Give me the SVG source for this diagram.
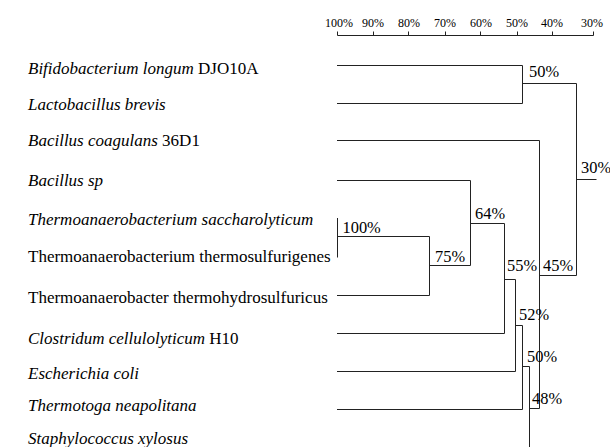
<svg xmlns="http://www.w3.org/2000/svg" width="610" height="447" viewBox="0 0 610 447">
<style>
.lab{font-size:17px}
.i{font-style:italic}
.pct{font-size:16.4px}
.ax{font-size:12px;text-anchor:middle}
.ln{stroke:#222;stroke-width:1;fill:none}
</style>
<rect width="610" height="447" fill="#fff"/>
<g id="axis" font-family="Liberation Serif, Times New Roman, DejaVu Serif, serif">
<path class="ln" d="M337.5,35.5H593.5M337.5,31.5V35.5M373.5,31.5V35.5M408.5,31.5V35.5M445.5,31.5V35.5M480.5,31.5V35.5M517.5,31.5V35.5M552.5,31.5V35.5M593.5,31.5V35.5"/>
<text class="ax" x="339" y="27">100%</text>
<text class="ax" x="373" y="27">90%</text>
<text class="ax" x="409" y="27">80%</text>
<text class="ax" x="445" y="27">70%</text>
<text class="ax" x="481" y="27">60%</text>
<text class="ax" x="517" y="27">50%</text>
<text class="ax" x="552" y="27">40%</text>
<text class="ax" x="592" y="27">30%</text>
</g>
<g id="taxa" class="lab" font-family="Liberation Serif, Times New Roman, DejaVu Serif, serif">
<text id="t1" x="28" y="74"><tspan class="i">Bifidobacterium longum</tspan> DJO10A</text>
<text id="t2" x="28" y="109.5" class="i">Lactobacillus brevis</text>
<text id="t3" x="28" y="146"><tspan class="i">Bacillus coagulans</tspan> 36D1</text>
<text id="t4" x="28" y="186" class="i">Bacillus sp</text>
<text id="t5" x="28" y="225" class="i">Thermoanaerobacterium saccharolyticum</text>
<text id="t6" x="28" y="261.5">Thermoanaerobacterium thermosulfurigenes</text>
<text id="t7" x="28" y="302.5">Thermoanaerobacter thermohydrosulfuricus</text>
<text id="t8" x="28" y="344"><tspan class="i">Clostridum cellulolyticum</tspan> H10</text>
<text id="t9" x="28" y="378.5" class="i">Escherichia coli</text>
<text id="t10" x="28" y="410.5" class="i">Thermotoga neapolitana</text>
<text id="t11" x="28" y="443.5" class="i">Staphylococcus xylosus</text>
</g>
<g id="connectors">
<path class="ln" d="M337,65.5H522.5V103.5H337"/>
<path class="ln" d="M522.5,83.5H576.5V275.5"/>
<path class="ln" d="M576.5,179.5H596.5"/>
<path class="ln" d="M337,140.5H539.5V408.5"/>
<path class="ln" d="M539.5,275.5H576.5"/>
<path class="ln" d="M337.5,218V257.5"/>
<path class="ln" d="M337.5,236.5H429.5V295.5H337"/>
<path class="ln" d="M429.5,265.5H470.5"/>
<path class="ln" d="M337,180.5H470.5V265.5"/>
<path class="ln" d="M470.5,223.5H504.5V333.5H337"/>
<path class="ln" d="M504.5,279.5H515.5V371.5H337"/>
<path class="ln" d="M515.5,325.5H522.5V409.5H337"/>
<path class="ln" d="M522.5,366.5H529.5V447"/>
<path class="ln" d="M529.5,408.5H539.5"/>
</g>
<g id="values" class="pct" font-family="Liberation Serif, Times New Roman, DejaVu Serif, serif">
<text x="529" y="77">50%</text>
<text x="581" y="173">30%</text>
<text x="342.5" y="233">100%</text>
<text x="435" y="262">75%</text>
<text x="475" y="218.5">64%</text>
<text x="507" y="271">55%</text>
<text x="543" y="271">45%</text>
<text x="519" y="319.5">52%</text>
<text x="527" y="362">50%</text>
<text x="532" y="404">48%</text>
</g>
</svg>
